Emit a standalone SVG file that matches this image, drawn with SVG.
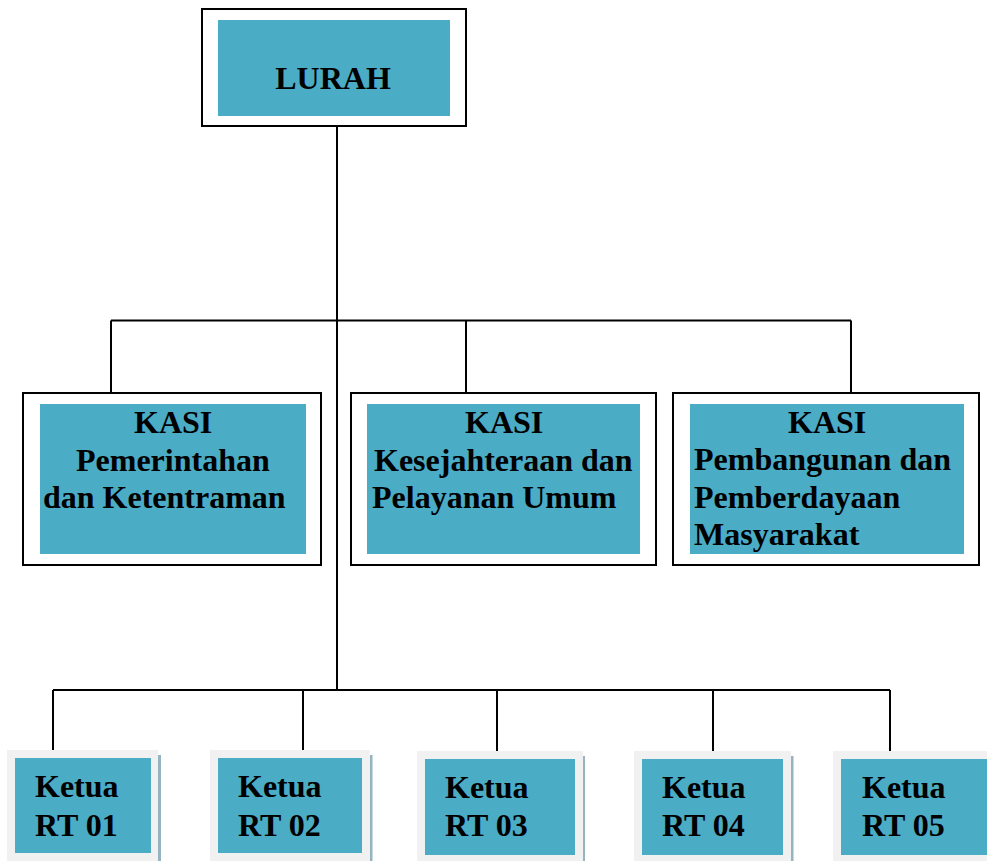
<svg xmlns="http://www.w3.org/2000/svg" width="987" height="861" viewBox="0 0 987 861">
<style>
.frame{fill:#ffffff;stroke:#000000;stroke-width:2}
.fill{fill:#4BACC6}
.gray{fill:#f1f1f1}
.shadow{fill:#95b4c0}
.line{stroke:#000000;stroke-width:2;fill:none}
text{font-family:"Liberation Serif","Times New Roman",serif;font-weight:bold;font-size:32px;fill:#000000}
</style>
<rect width="987" height="861" fill="#ffffff"/>
<g id="connectors">
<line class="line" x1="337" y1="127" x2="337" y2="690"/>
<line class="line" x1="111" y1="320.5" x2="851" y2="320.5"/>
<line class="line" x1="111" y1="320.5" x2="111" y2="393"/>
<line class="line" x1="466" y1="320.5" x2="466" y2="393"/>
<line class="line" x1="851" y1="320.5" x2="851" y2="393"/>
<line class="line" x1="53" y1="690" x2="890" y2="690"/>
<line class="line" x1="53" y1="690" x2="53" y2="750"/>
<line class="line" x1="303" y1="690" x2="303" y2="750"/>
<line class="line" x1="497" y1="690" x2="497" y2="751"/>
<line class="line" x1="713" y1="690" x2="713" y2="751"/>
<line class="line" x1="890" y1="690" x2="890" y2="751"/>
</g>
<g id="lurah">
<rect class="frame" x="202" y="9" width="264" height="117"/>
<rect class="fill" x="218" y="20" width="232" height="96"/>
<text x="333" y="89" text-anchor="middle">LURAH</text>
</g>
<g id="kasi1">
<rect class="frame" x="23" y="393" width="298" height="172"/>
<rect class="fill" x="40" y="404" width="266" height="150"/>
<text x="134" y="433">KASI</text>
<text x="76" y="471">Pemerintahan</text>
<text x="43" y="508">dan Ketentraman</text>
</g>
<g id="kasi2">
<rect class="frame" x="351" y="393" width="305" height="172"/>
<rect class="fill" x="367" y="404" width="273" height="150"/>
<text x="465" y="433">KASI</text>
<text x="374" y="471">Kesejahteraan dan</text>
<text x="372" y="508">Pelayanan Umum</text>
</g>
<g id="kasi3">
<rect class="frame" x="673" y="393" width="306" height="172"/>
<rect class="fill" x="690" y="404" width="274" height="150"/>
<text x="788" y="433">KASI</text>
<text x="694" y="470">Pembangunan dan</text>
<text x="694" y="508">Pemberdayaan</text>
<text x="694" y="545">Masyarakat</text>
</g>
<g id="rt01">
<rect class="shadow" x="158" y="755" width="3" height="106"/>
<rect class="gray" x="7" y="750" width="151" height="111"/>
<rect class="fill" x="15" y="758" width="136" height="95"/>
<text x="35" y="797">Ketua</text>
<text x="35" y="836">RT 01</text>
</g>
<g id="rt02">
<rect class="shadow" x="370" y="755" width="2.5" height="106"/>
<rect class="gray" x="210" y="750" width="160" height="111"/>
<rect class="fill" x="218" y="758" width="144" height="95"/>
<text x="238" y="797">Ketua</text>
<text x="238" y="836">RT 02</text>
</g>
<g id="rt03">
<rect class="shadow" x="582.5" y="756" width="2.5" height="105"/>
<rect class="gray" x="417" y="751" width="166" height="110"/>
<rect class="fill" x="425" y="759" width="150" height="96"/>
<text x="445" y="798">Ketua</text>
<text x="445" y="836">RT 03</text>
</g>
<g id="rt04">
<rect class="shadow" x="790.5" y="756" width="3" height="105"/>
<rect class="gray" x="634" y="751" width="157" height="110"/>
<rect class="fill" x="642" y="759" width="141" height="96"/>
<text x="662" y="798">Ketua</text>
<text x="662" y="836">RT 04</text>
</g>
<g id="rt05">
<rect class="gray" x="833" y="751" width="154" height="110"/>
<rect class="fill" x="841" y="759" width="146" height="96"/>
<text x="862" y="798">Ketua</text>
<text x="862" y="836">RT 05</text>
</g>
</svg>
